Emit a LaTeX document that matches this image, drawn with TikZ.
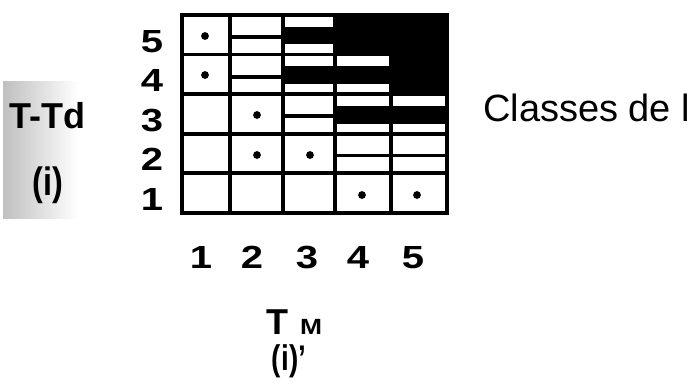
\documentclass[tikz,border=0pt]{standalone}
\usepackage{fontspec}
\usepackage{graphicx}
\setmainfont{Liberation Sans}
\begin{document}
\begin{tikzpicture}[x=1pt,y=-1pt,
  gridline/.style={line width=3.8pt,line cap=rect},
  dotmark/.style={fill=black},
  lab/.style={inner sep=0pt,anchor=base,font=\fontsize{32}{36}\selectfont\bfseries},
  collab/.style={inner sep=0pt,anchor=base,font=\fontsize{32}{36}\selectfont\bfseries},
  sidelab/.style={inner sep=0pt,font=\fontsize{36}{40}\selectfont\bfseries},
  classlab/.style={inner sep=0pt,anchor=base west,font=\fontsize{38}{44}\selectfont}
]
\useasboundingbox[fill=white] (0,0) rectangle (692,387);
% gradient side box
\shade[left color=black!25,right color=white,draw=none] (3,82) rectangle (78,218);
\node[sidelab] (ttd) at (47,116) {T-Td};
\node[sidelab] (i1) at (48,185) {\scalebox{0.9}[1.1]{(i)}};
% black full cells
\fill[black] (335,15) rectangle (447,54.6);
\fill[black] (391,54.6) rectangle (447,94.2);
% striped bands
\fill[black] (283,26.9) rectangle (335,44.3);
\fill[black] (283,66.5) rectangle (391,84.3);
\fill[black] (335,106.1) rectangle (447,123.9);
% split lines
\draw[gridline] (230,36.8) -- (283,36.8);
\draw[gridline] (230,77) -- (283,77);
\draw[gridline] (283,116) -- (335,116);
\draw[gridline] (335,155.6) -- (447,155.6);
% grid
\foreach \gx in {230,283,335,391} \draw[gridline] (\gx,15) -- (\gx,213);
\foreach \gy in {54.6,94.2,133.8,173.4} \draw[gridline] (182,\gy) -- (447,\gy);
\draw[line width=4.2pt] (182,15) rectangle (447,213);
% dots
\fill[dotmark] (205,36) circle (3.9);
\fill[dotmark] (205,75) circle (3.9);
\fill[dotmark] (257,115) circle (3.9);
\fill[dotmark] (257,155) circle (3.9);
\fill[dotmark] (310,155) circle (3.9);
\fill[dotmark] (362,195) circle (3.9);
\fill[dotmark] (417,195) circle (3.9);
% row labels
\node[lab] (r5) at (152,53) {\scalebox{1.25}[1]{5}};
\node[lab] (r4) at (152,92) {\scalebox{1.25}[1]{4}};
\node[lab] (r3) at (152,132) {\scalebox{1.25}[1]{3}};
\node[lab] (r2) at (152,171) {\scalebox{1.25}[1]{2}};
\node[lab] (r1) at (152,211) {\scalebox{1.25}[1]{1}};
% column labels
\node[collab] (c1) at (201,268) {\scalebox{1.25}[1]{1}};
\node[collab] (c2) at (252,268) {\scalebox{1.25}[1]{2}};
\node[collab] (c3) at (307,268) {\scalebox{1.25}[1]{3}};
\node[collab] (c4) at (358,268) {\scalebox{1.25}[1]{4}};
\node[collab] (c5) at (413,268) {\scalebox{1.25}[1]{5}};
% axis label bottom
\node[inner sep=0pt,anchor=base,font=\fontsize{36}{40}\selectfont\bfseries] (tm) at (277,334) {T};
\node[inner sep=0pt,anchor=base,font=\fontsize{22}{26}\selectfont\bfseries] (tmm) at (311,334) {\scalebox{1.2}[1]{M}};
\node[inner sep=0pt,font=\fontsize{31}{34}\selectfont\bfseries] (i2) at (289,361) {\scalebox{0.9}[1.15]{(i)'}};
% right label
\node[classlab] (cls) at (483,122) {Classes de l};
\end{tikzpicture}
\end{document}
